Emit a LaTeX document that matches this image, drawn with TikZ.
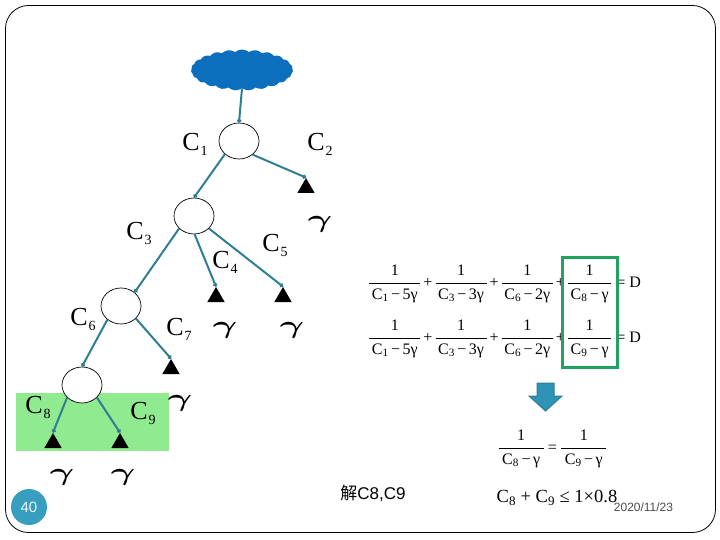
\documentclass[tikz,border=0pt]{standalone}
\usepackage{amsmath}
\usepackage{fontspec}
\setmainfont{Liberation Serif}
\setsansfont{Liberation Sans}
\newfontfamily\cjkfont{Noto Sans CJK SC}
\usetikzlibrary{arrows.meta,shapes.geometric,shapes.symbols}
\definecolor{linkteal}{HTML}{2F7F92}
\definecolor{cloudblue}{HTML}{0B6FBE}
\definecolor{pagegreen}{HTML}{90EA90}
\definecolor{boxgreen}{HTML}{1FA35F}
\definecolor{badgeblue}{HTML}{379EBF}
\definecolor{arrowblue}{HTML}{2F93B8}
\newcommand{\capa}[1]{C\hspace{1pt}\raisebox{-5pt}{\fontsize{14}{14}\selectfont #1}}
\newcommand{\den}[2]{\text{C}_{\text{#1}}\hspace{2.5pt}\text{−}\hspace{2.5pt}\text{#2γ}}
\newcommand{\fpad}{2.5pt}
\newcommand{\frc}[2]{\dfrac{\text{1}}{\hspace{\fpad}\den{#1}{#2}\hspace{\fpad}}}
\newcommand{\plusop}{\hspace{2pt}\text{+}\hspace{2pt}}
\begin{document}
\begin{tikzpicture}[
    x=1pt, y=-1pt,
    switch/.style={draw, ellipse, fill=white, line width=0.7pt, inner sep=0pt, minimum width=40pt, minimum height=36pt},
    sink/.style={regular polygon, regular polygon sides=3, fill=black, inner sep=0pt, minimum size=20pt},
    link/.style={draw=linkteal, line width=2pt, -{Circle[length=4pt]}},
    caplabel/.style={font=\fontsize{26}{26}\selectfont, inner sep=0pt},
    rate/.style={font=\fontsize{26}{26}\selectfont, inner sep=0pt, xscale=1.5},
    eqn/.style={font=\fontsize{16}{18}\selectfont, inner sep=0pt}
]
    \useasboundingbox (0,0) rectangle (720,540);
    \draw[line width=0.8pt, rounded corners=23pt] (5.5,5.5) rectangle (715.5,532.5);
    \fill[pagegreen] (16,393) rectangle (169,451);

    % Tree
    \node[cloud, cloud puffs=23, cloud puff arc=80, aspect=2.5, fill=cloudblue, inner sep=0pt, minimum width=102pt, minimum height=41pt] (net) at (242,70) {};
    \node[switch] (s1) at (239,141) {};
    \node[switch] (s3) at (194,216) {};
    \node[switch] (s6) at (121,306) {};
    \node[switch] (s8) at (82,385) {};
    \node[sink] (t2) at (306,188) {};
    \node[sink] (t4) at (216,297) {};
    \node[sink] (t5) at (283,297) {};
    \node[sink] (t7) at (171,369) {};
    \node[sink] (t8) at (53,443) {};
    \node[sink] (t9) at (120,443) {};

    \draw[link] (net.south) -- (s1.north);
    \draw[link] (s1.223) -- (s3.north);
    \draw[link] (s1.315) -- (t2.north);
    \draw[link] (s3.220) -- (s6.45);
    \draw[link] (s3.272) -- (t4.north);
    \draw[link] (s3.320) -- (t5.north);
    \draw[link] (s6.225) -- (s8.north);
    \draw[link] (s6.320) -- (t7.north);
    \draw[link] (s8.220) -- (t8.north);
    \draw[link] (s8.320) -- (t9.north);

    % Capacities
    \node[caplabel] (c1) at (195,144) {\capa{1}};
    \node[caplabel] (c2) at (320,144) {\capa{2}};
    \node[caplabel] (c3) at (139,233) {\capa{3}};
    \node[caplabel] (c4) at (225,262) {\capa{4}};
    \node[caplabel] (c5) at (275,245) {\capa{5}};
    \node[caplabel] (c6) at (83,319) {\capa{6}};
    \node[caplabel] (c7) at (179,329) {\capa{7}};
    \node[caplabel] (c8) at (38,407) {\capa{8}};
    \node[caplabel] (c9) at (143,413) {\capa{9}};

    % Rates
    \node[rate] (r2) at (320,224) {$\boldsymbol{\gamma}$};
    \node[rate] (r4) at (225,330) {$\boldsymbol{\gamma}$};
    \node[rate] (r5) at (292,330) {$\boldsymbol{\gamma}$};
    \node[rate] (r7) at (180,403) {$\boldsymbol{\gamma}$};
    \node[rate] (r8) at (62,477) {$\boldsymbol{\gamma}$};
    \node[rate] (r9) at (123,477) {$\boldsymbol{\gamma}$};

    % Equations
    \node[eqn] (eqa) at (504.5,284) {$\frc{1}{5}\plusop\frc{3}{3}\plusop\frc{6}{2}\plusop\frc{8}{}\hspace{4pt}\text{= D}$};
    \node[eqn] (eqb) at (504.5,339) {$\frc{1}{5}\plusop\frc{3}{3}\plusop\frc{6}{2}\plusop\frc{9}{}\hspace{4pt}\text{= D}$};
    \node[draw=boxgreen, line width=3pt, inner sep=0pt, minimum width=55pt, minimum height=110pt] (pick) at (590,312.5) {};
    \draw[draw=linkteal, line width=1pt, fill=arrowblue] (537,383) -- (554,383) -- (554,396) -- (562,396) -- (545.5,411) -- (529,396) -- (537,396) -- cycle;
    \node[eqn] (eqc) at (552.5,449) {\renewcommand{\fpad}{3.7pt}$\frc{8}{}\hspace{3pt}\text{=}\hspace{3pt}\frc{9}{}$};
    \node[inner sep=0pt, font=\fontsize{18.5}{19}\selectfont] (eqd) at (557,498) {C\textsubscript{8} + C\textsubscript{9} ≤ 1×0.8};

    % Slide text
    \node[inner sep=0pt, font=\fontsize{17}{17}\sffamily\selectfont] (solve) at (373,493) {{\cjkfont 解}C8,C9};
    \node[inner sep=0pt, font=\fontsize{12}{12}\sffamily\selectfont, text=black!70] (date) at (643.5,507) {2020/11/23};
    \node[circle, fill=badgeblue, inner sep=0pt, minimum size=36pt, text=white!90!badgeblue, font=\fontsize{15}{15}\sffamily\selectfont] (page) at (29,507) {40};
\end{tikzpicture}
\end{document}
